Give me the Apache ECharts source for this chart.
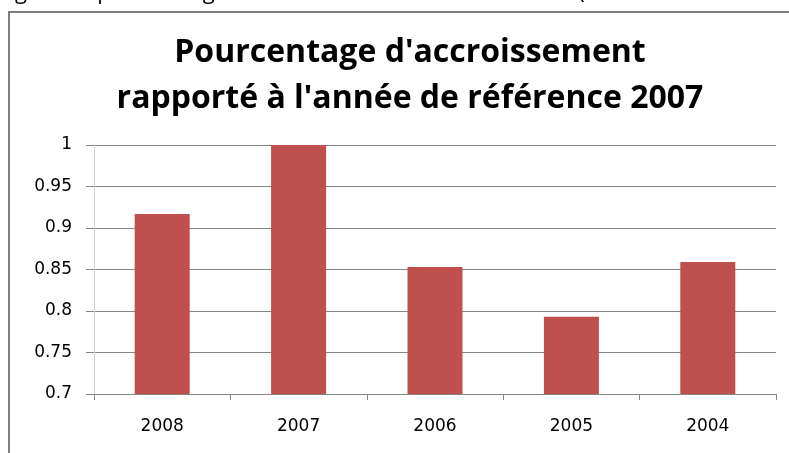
<!DOCTYPE html>
<html>
<head>
<meta charset="utf-8">
<script src="https://cdn.jsdelivr.net/npm/echarts@6/dist/echarts.min.js"></script>
<style>
  html, body { margin: 0; padding: 0; background: #fff; }
  #chart { width: 789px; height: 453px; }
</style>
</head>
<body>
<div id="chart"></div>
<script>
// données
var annees = ['2008', '2007', '2006', '2005', '2004'];
var valeurs = [0.917, 1, 0.853, 0.793, 0.859];
var graduations = [0.7, 0.75, 0.8, 0.85, 0.9, 0.95, 1];

var myChart = echarts.init(document.getElementById('chart'));

var option = {
  backgroundColor: '#fff',
  animation: false,
  graphic: [
    {
      type: 'text',
      left: -2,
      top: -18,
      style: {
        text: "Figure 4 : pourcentage de diminution de l'accroissement (année de référence 2007)",
        fontFamily: 'Open Sans',
        fontSize: 22,
        fill: '#000'
      }
    },
    {
      type: 'rect',
      shape: { x: 9, y: 12, width: 900, height: 500 },
      style: { fill: 'none', stroke: '#7f7f7f', lineWidth: 2 }
    },
    {
      type: 'text',
      style: {
        x: 410,
        y: 30,
        text: "Pourcentage d'accroissement\nrapporté à l'année de référence 2007",
        textAlign: 'center',
        fontFamily: 'Open Sans',
        fontWeight: 'bold',
        fontSize: 32,
        lineHeight: 46,
        fill: '#000'
      }
    }
  ],
  grid: {
    left: 94,
    right: 13,
    top: 145,
    bottom: 59
  },
  xAxis: {
    type: 'category',
    data: annees,
    axisLine: { lineStyle: { color: '#868686' } },
    axisTick: { show: true, length: 6, lineStyle: { color: '#868686' } },
    axisLabel: {
      margin: 24,
      fontFamily: 'DejaVu Sans',
      fontSize: 17,
      color: '#000'
    }
  },
  yAxis: {
    type: 'value',
    min: 0.7,
    max: 1,
    interval: 0.05,
    axisLine: { show: true, lineStyle: { color: '#d0d0d0' } },
    axisTick: { show: true, length: 8, lineStyle: { color: '#868686' } },
    splitLine: { lineStyle: { color: '#868686' } },
    axisLabel: {
      margin: 22,
      fontFamily: 'DejaVu Sans',
      fontSize: 17,
      color: '#000',
      formatter: function (v) {
        var s = graduations.find(function (g) { return Math.abs(g - v) < 1e-6; });
        return s === undefined ? '' : String(s);
      }
    }
  },
  series: [
    {
      type: 'bar',
      data: valeurs,
      barWidth: 55,
      itemStyle: { color: '#c0504d' }
    }
  ]
};

myChart.setOption(option);
</script>
</body>
</html>
